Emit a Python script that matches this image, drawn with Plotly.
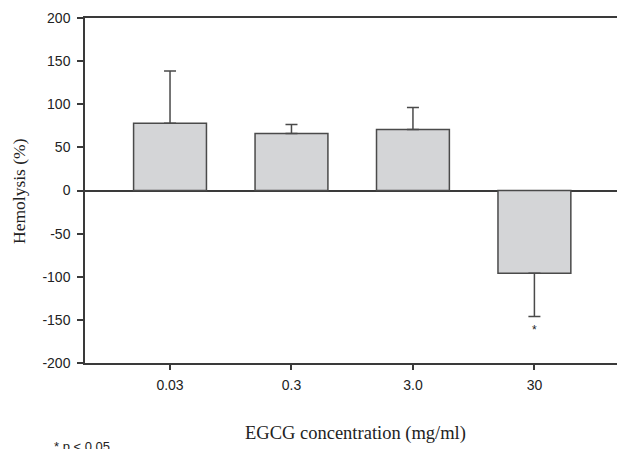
import plotly.graph_objects as go

categories = ["0.03", "0.3", "3.0", "30"]
hemolysis = [78, 66, 70.6, -96]
err_up = [60.5, 10.4, 25.5, 0]
err_down = [0, 0, 0, 50]
y_ticks = [200, 150, 100, 50, 0, -50, -100, -150, -200]
y_tick_labels = ["200", "150", "100", "50", "0", "-50", "-100", "-150", "-200"]

AX = "#3a3a3a"
fig = go.Figure()
fig.add_trace(go.Bar(
    x=categories, y=hemolysis, width=0.6,
    marker=dict(color="#d4d5d7", line=dict(color="#4a4a4a", width=1.5)),
    error_y=dict(type="data", symmetric=False, array=err_up, arrayminus=err_down,
                 color="#4a4a4a", thickness=1.5, width=6),
    showlegend=False,
))

fig.update_layout(
    width=617, height=449,
    margin=dict(l=85, r=0, t=18, b=86),
    plot_bgcolor="white", paper_bgcolor="white",
    font=dict(family="Liberation Sans, Arial, sans-serif", size=14, color="#222"),
    xaxis=dict(type="category", range=[-0.70, 3.68], showline=True, linecolor=AX,
               linewidth=1.5, mirror=True, ticks="outside", ticklen=5, tickwidth=1.5,
               tickcolor=AX, showgrid=False, tickfont=dict(size=14), ticklabelstandoff=3),
    yaxis=dict(range=[-200, 200], tickvals=y_ticks, ticktext=y_tick_labels,
               showline=True, linecolor=AX,
               linewidth=1.5, ticks="outside", ticklen=6, tickwidth=1.5, tickcolor=AX,
               showgrid=False, zeroline=True, zerolinecolor=AX, zerolinewidth=1.5,
               tickfont=dict(size=14), ticklabelstandoff=4),
)

pw = 617 - 85 - 0
ph = 449 - 18 - 86
serif = "Liberation Serif, Times New Roman, serif"

fig.add_annotation(x=3, y=-162, xref="x", yref="y", text="*", showarrow=False,
                   font=dict(size=12, color="#222"))
fig.add_annotation(x=(355 - 85) / pw, y=(363 - 433) / ph, xref="paper", yref="paper",
                   yanchor="middle", text="EGCG concentration (mg/ml)", showarrow=False,
                   font=dict(family=serif, size=18.5, color="#222"))
fig.add_annotation(x=(19 - 85) / pw, y=(363 - 191) / ph, xref="paper", yref="paper",
                   text="Hemolysis (%)",
                   textangle=-90, showarrow=False, xanchor="center", yanchor="middle",
                   font=dict(family=serif, size=17.5, color="#222"))
fig.add_annotation(x=(52 - 85) / pw, y=(363 - 446) / ph, xref="paper", yref="paper",
                   text="* p < 0.05", showarrow=False, xanchor="left", yanchor="middle",
                   font=dict(size=13, color="#222"))

fig.write_html("out.html", config={"displayModeBar": False},
               post_script="document.body.style.margin='0';")
